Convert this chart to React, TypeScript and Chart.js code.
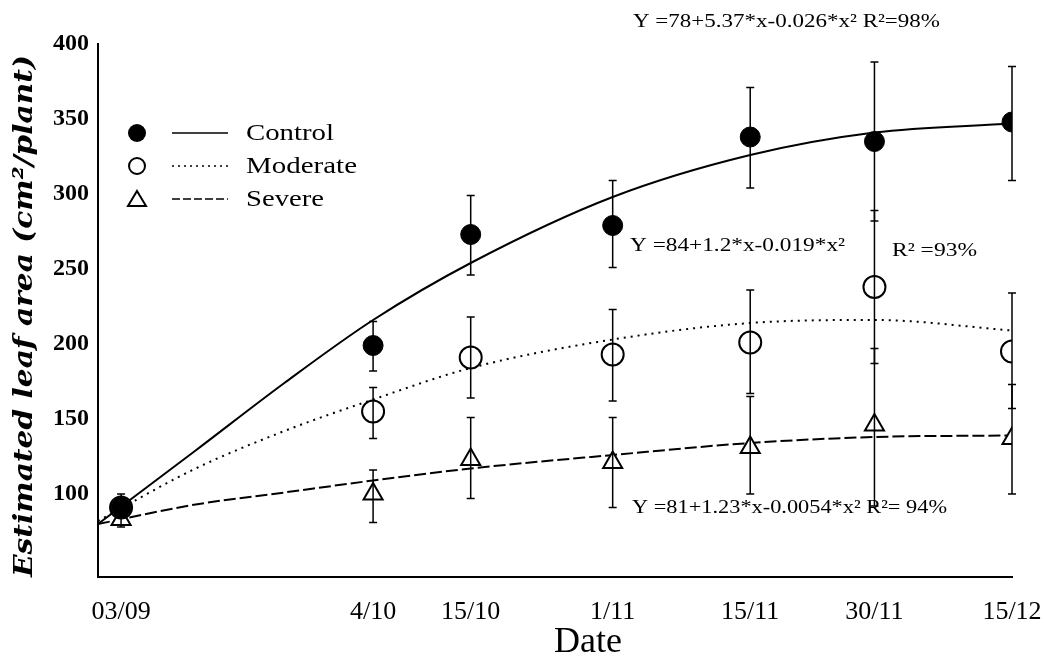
import React, { useEffect, useRef } from "react";
import { Chart, registerables } from "chart.js";

Chart.register(...registerables);

// ---- data ----
const dateLabels = ["03/09", "4/10", "15/10", "1/11", "15/11", "30/11", "15/12"];
const sampleDays = [2.6, 31, 42, 58, 73.5, 87.5, 103];

const controlMean = [91, 199, 273, 279, 338, 335, 348];
const controlUpper = [100, 215, 299, 309, 371, 388, 385];
const controlLower = [84, 182, 246, 251, 304, 282, 309];

const moderateMean = [91, 155, 191, 193, 201, 238, 195];
const moderateUpper = [97, 171, 218, 223, 236, 289, 234];
const moderateLower = [85, 137, 164, 162, 167, 187, 157];

const severeMean = [83, 100, 123, 121, 131, 146, 137];
const severeUpper = [88, 116, 151, 151, 165, 197, 173];
const severeLower = [78, 81, 97, 91, 100, 92, 100];

const curveDays = [0, 11, 21, 31, 42, 58, 73.5, 87.5, 103];
const controlFit = [80, 129, 174, 216, 254, 298, 326, 341, 347];
const moderateFit = [82, 117, 142, 163, 184, 203, 214, 216, 209];
const severeFit = [80, 93, 101, 109, 117, 126, 134, 138, 139];

const yTicks = [100, 150, 200, 250, 300, 350, 400];
const seriesNames = ["Control", "Moderate", "Severe"];
const equationTexts = [
  "Y =78+5.37*x-0.026*x\u00B2 R\u00B2=98%",
  "Y =84+1.2*x-0.019*x\u00B2",
  "R\u00B2 =93%",
  "Y =81+1.23*x-0.0054*x\u00B2 R\u00B2= 94%",
];
const yTitle = "Estimated leaf area (cm\u00B2/plant)";
const xTitle = "Date";

const SERIF = "'Liberation Serif', 'Times New Roman', serif";

const pts = (xs: number[], ys: number[]) => xs.map((x, i) => ({ x, y: ys[i] }));

function fillTextFit(ctx: CanvasRenderingContext2D, text: string, x: number, y: number, width: number) {
  const w = ctx.measureText(text).width;
  ctx.save();
  ctx.translate(x, y);
  ctx.scale(width / w, 1);
  ctx.fillText(text, 0, 0);
  ctx.restore();
}

function drawMarker(ctx: CanvasRenderingContext2D, kind: string, x: number, y: number) {
  ctx.save();
  ctx.strokeStyle = "#000";
  ctx.lineWidth = 2;
  ctx.setLineDash([]);
  if (kind === "filled") {
    ctx.fillStyle = "#000";
    ctx.beginPath();
    ctx.arc(x, y, 9, 0, Math.PI * 2);
    ctx.fill();
  } else if (kind === "open") {
    ctx.fillStyle = "#fff";
    ctx.beginPath();
    ctx.arc(x, y, 8, 0, Math.PI * 2);
    ctx.fill();
    ctx.stroke();
  } else {
    ctx.fillStyle = "#fff";
    ctx.beginPath();
    ctx.moveTo(x, y - 8);
    ctx.lineTo(x + 9, y + 7);
    ctx.lineTo(x - 9, y + 7);
    ctx.closePath();
    ctx.fill();
    ctx.stroke();
  }
  ctx.restore();
}

const errorBarPlugin = {
  id: "errorBars",
  afterDatasetsDraw(chart: any) {
    const ctx = chart.ctx;
    const xs = chart.scales.x;
    const ys = chart.scales.y;
    const groups = [
      [controlUpper, controlLower],
      [moderateUpper, moderateLower],
      [severeUpper, severeLower],
    ];
    ctx.save();
    ctx.strokeStyle = "#000";
    ctx.lineWidth = 1.5;
    ctx.setLineDash([]);
    groups.forEach(([up, lo]) => {
      sampleDays.forEach((d, i) => {
        const x = xs.getPixelForValue(d);
        const yt = ys.getPixelForValue(up[i]);
        const yb = ys.getPixelForValue(lo[i]);
        ctx.beginPath();
        ctx.moveTo(x, yt);
        ctx.lineTo(x, yb);
        ctx.moveTo(x - 4, yt);
        ctx.lineTo(x + 4, yt);
        ctx.moveTo(x - 4, yb);
        ctx.lineTo(x + 4, yb);
        ctx.stroke();
      });
    });
    ctx.restore();
  },
};

const decorPlugin = {
  id: "decor",
  afterDraw(chart: any) {
    const ctx: CanvasRenderingContext2D = chart.ctx;
    ctx.save();
    ctx.fillStyle = "#000";

    // y title
    ctx.save();
    ctx.translate(25, 316);
    ctx.rotate(-Math.PI / 2);
    ctx.font = `italic bold 26px 'DejaVu Serif', serif`;
    const w = ctx.measureText(yTitle).width;
    ctx.scale(522 / w, 1);
    ctx.textAlign = "center";
    ctx.textBaseline = "middle";
    ctx.fillText(yTitle, 0, 0);
    ctx.restore();

    // x title
    ctx.font = `36px ${SERIF}`;
    ctx.textAlign = "center";
    ctx.textBaseline = "middle";
    ctx.fillText(xTitle, 588, 643);

    // equations
    ctx.font = `19px ${SERIF}`;
    ctx.textAlign = "left";
    ctx.textBaseline = "middle";
    fillTextFit(ctx, equationTexts[0], 633, 22, 307);
    fillTextFit(ctx, equationTexts[1], 630, 246, 215);
    fillTextFit(ctx, equationTexts[2], 892, 251, 85);
    fillTextFit(ctx, equationTexts[3], 632, 508, 315);

    // legend
    const rows = [
      { y: 133, marker: "filled", dash: [] as number[], w: 88 },
      { y: 166, marker: "open", dash: [2, 4], w: 111 },
      { y: 199, marker: "tri", dash: [8, 3], w: 78 },
    ];
    rows.forEach((r, i) => {
      drawMarker(ctx, r.marker, 137, r.y);
      ctx.save();
      ctx.strokeStyle = "#000";
      ctx.lineWidth = 1.5;
      ctx.setLineDash(r.dash);
      ctx.beginPath();
      ctx.moveTo(172, r.y);
      ctx.lineTo(228, r.y);
      ctx.stroke();
      ctx.restore();
      ctx.font = `23px ${SERIF}`;
      ctx.textAlign = "left";
      ctx.textBaseline = "middle";
      fillTextFit(ctx, seriesNames[i], 246, r.y + 1, r.w);
    });
    ctx.restore();
  },
};

export default function App() {
  const canvasRef = useRef<HTMLCanvasElement | null>(null);

  useEffect(() => {
    const canvas = canvasRef.current;
    if (!canvas) return;
    const chart = new Chart(canvas, {
      type: "scatter",
      data: {
        datasets: [
          {
            type: "line",
            label: "Control fit",
            data: pts(curveDays, controlFit),
            borderColor: "#000",
            borderWidth: 2,
            pointRadius: 0,
            cubicInterpolationMode: "monotone",
            fill: false,
            order: 6,
          },
          {
            type: "line",
            label: "Moderate fit",
            data: pts(curveDays, moderateFit),
            borderColor: "#000",
            borderWidth: 2,
            borderDash: [2, 5],
            pointRadius: 0,
            cubicInterpolationMode: "monotone",
            fill: false,
            order: 5,
          },
          {
            type: "line",
            label: "Severe fit",
            data: pts(curveDays, severeFit),
            borderColor: "#000",
            borderWidth: 2,
            borderDash: [12, 4],
            pointRadius: 0,
            cubicInterpolationMode: "monotone",
            fill: false,
            order: 4,
          },
          {
            label: "Severe",
            data: pts(sampleDays, severeMean),
            pointStyle: "triangle",
            pointRadius: 11,
            backgroundColor: "#fff",
            borderColor: "#000",
            borderWidth: 2,
            order: 3,
          },
          {
            label: "Moderate",
            data: pts(sampleDays, moderateMean),
            pointStyle: "circle",
            pointRadius: 11,
            backgroundColor: "#fff",
            borderColor: "#000",
            borderWidth: 2,
            order: 2,
          },
          {
            label: "Control",
            data: pts(sampleDays, controlMean),
            pointStyle: "circle",
            pointRadius: 10,
            backgroundColor: "#000",
            borderColor: "#000",
            borderWidth: 1,
            order: 1,
          },
        ] as any,
      },
      options: {
        animation: false,
        responsive: false,
        events: [],
        layout: { padding: { top: 44, right: 32, left: 0, bottom: 0 } },
        plugins: { legend: { display: false }, tooltip: { enabled: false } },
        scales: {
          x: {
            type: "linear",
            min: 0,
            max: 103,
            afterBuildTicks: (s: any) => {
              s.ticks = sampleDays.map((v) => ({ value: v }));
            },
            afterFit: (s: any) => {
              s.height = 664 - 576.5;
              s.paddingLeft = 0;
              s.paddingRight = 0;
            },
            ticks: {
              autoSkip: false,
              maxRotation: 0,
              padding: 20,
              color: "#000",
              font: { family: SERIF, size: 26 },
              callback: (_v: any, i: number) => dateLabels[i],
            },
            grid: { display: false, drawTicks: false },
            border: { display: true, color: "#000", width: 2 },
          },
          y: {
            type: "linear",
            min: 45,
            max: 400,
            afterBuildTicks: (s: any) => {
              s.ticks = yTicks.map((v) => ({ value: v }));
            },
            afterFit: (s: any) => {
              s.width = 98;
              s.paddingTop = 0;
              s.paddingBottom = 0;
            },
            ticks: {
              padding: 9,
              color: "#000",
              font: { family: SERIF, size: 24, weight: "bold" },
            },
            grid: { display: false, drawTicks: false },
            border: { display: true, color: "#000", width: 2 },
          },
        },
      } as any,
      plugins: [errorBarPlugin, decorPlugin],
    });
    return () => chart.destroy();
  }, []);

  return (
    <div style={{ position: "fixed", left: 0, top: 0, width: 1044, height: 664, background: "#fff" }}>
      <canvas ref={canvasRef} width={1044} height={664} />
    </div>
  );
}
